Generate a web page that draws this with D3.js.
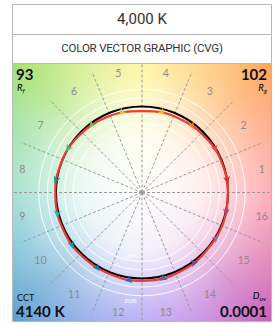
<!DOCTYPE html>
<html>
<head>
<meta charset="utf-8">
<script src="https://cdn.jsdelivr.net/npm/d3@7"></script>
<style>
  body { margin: 0; background: #fff; }
  svg { display: block; font-family: Lato, "Open Sans", sans-serif; }
  .spoke { stroke: #9a9a9a; stroke-width: 1; stroke-dasharray: 3,2; fill: none; }
  .ring { stroke: #fff; stroke-width: 1; fill: none; opacity: 0.9; }
  .binlbl { fill: #8c8c8c; font-size: 10.5px; }
  .big { font-weight: bold; font-size: 15px; fill: #111; }
</style>
</head>
<body>
<script>
// values
var bins = d3.range(1, 17);
var chromaRatio = [1.00, 0.99, 0.97, 0.96, 0.96, 0.98, 1.00, 1.01, 1.015, 1.02, 1.02, 1.03, 1.03, 1.02, 1.01, 1.005];
var hueShiftDeg = [-3, -3, -3, -3, 3, 3, 3, 3, 3, 3, 3, 3, 3, 3, 2, -2];
var binColors = ["#e62828", "#e74b4b", "#fb812e", "#ffb529", "#cbca46", "#7eb94c", "#41c06d", "#009c7c",
                 "#16bcb0", "#00a4bf", "#0085c3", "#3b62aa", "#4568ae", "#6a4e85", "#9d69a1", "#a74f81"];
var ringLevels = [0.8, 0.9, 1.1, 1.2];
var nominalCCT = "4,000 K";
var title = "COLOR VECTOR GRAPHIC (CVG)";
var Rf = 93, Rg = 102, CCT = "4140 K", Duv = "0.0001";

// background hue stops, every 22.5 deg starting at 0 (right)
var bgHue = ["#ff8090", "#ff8c6c", "#ff9c4c", "#ffc85c", "#fff070", "#d4ec6c", "#9ede64", "#84da94",
             "#74d2b4", "#5cb6cc", "#4e98cc", "#7090e2", "#9484f2", "#b070e0", "#c252b4", "#e2629c"];

var W = 280, H = 324;
var box = {x: 12, y: 4, w: 260, h: 318};
var row1 = 34, row2 = 63;
var cx = 142, cy = 192.5, R = 86;

var svg = d3.select("body").append("svg").attr("width", W).attr("height", H);
var defs = svg.append("defs");
defs.append("clipPath").attr("id", "clip").append("rect")
    .attr("x", box.x).attr("y", row2).attr("width", box.w).attr("height", box.y + box.h - row2);

var rg = defs.append("radialGradient").attr("id", "whiten")
    .attr("gradientUnits", "userSpaceOnUse").attr("cx", cx).attr("cy", cy).attr("r", 195);
rg.append("stop").attr("offset", 0).attr("stop-color", "#fff").attr("stop-opacity", 1);
rg.append("stop").attr("offset", 0.3).attr("stop-color", "#fff").attr("stop-opacity", 0.88);
rg.append("stop").attr("offset", 0.62).attr("stop-color", "#fff").attr("stop-opacity", 0.42);
rg.append("stop").attr("offset", 1).attr("stop-color", "#fff").attr("stop-opacity", 0);

var r = d3.scaleLinear().domain([0, 1]).range([0, R]);
// math angle (deg, ccw) -> screen point
function pt(deg, rad) {
  var a = deg * Math.PI / 180;
  return [cx + rad * Math.cos(a), cy - rad * Math.sin(a)];
}

var plot = svg.append("g").attr("clip-path", "url(#clip)");

// background wedges
var hueColor = d3.scaleLinear()
    .domain(d3.range(0, 361, 22.5))
    .range(bgHue.concat([bgHue[0]]))
    .interpolate(d3.interpolateRgb);
var steps = d3.range(0, 360, 2);
var wedge = d3.arc().innerRadius(0).outerRadius(220);
plot.append("g").attr("transform", "translate(" + cx + "," + cy + ")")
  .selectAll("path").data(steps).enter().append("path")
    .attr("d", function(d) {
      // d3.arc angles: clockwise from 12 o'clock
      var a0 = (90 - d - 1.2) * Math.PI / 180, a1 = (90 - d + 1.2) * Math.PI / 180;
      return wedge({startAngle: a1, endAngle: a0});
    })
    .attr("fill", function(d) { return hueColor(d + 1); })
    .attr("stroke", function(d) { return hueColor(d + 1); })
    .attr("stroke-width", 0.5);
plot.append("rect").attr("x", box.x).attr("y", row2).attr("width", box.w)
    .attr("height", box.y + box.h - row2).attr("fill", "url(#whiten)");

// rings
plot.selectAll(".ring").data(ringLevels).enter().append("circle")
    .attr("class", "ring").attr("cx", cx).attr("cy", cy).attr("r", function(d) { return r(d); });

// spokes at bin boundaries
plot.selectAll(".spoke").data(d3.range(0, 16)).enter().append("line")
    .attr("class", "spoke")
    .attr("x1", cx).attr("y1", cy)
    .attr("x2", function(i) { return pt(i * 22.5, r(1.52))[0]; })
    .attr("y2", function(i) { return pt(i * 22.5, r(1.52))[1]; });
plot.append("path").attr("d", "M" + (cx - 3) + "," + cy + "H" + (cx + 3) + "M" + cx + "," + (cy - 3) + "V" + (cy + 3))
    .attr("stroke", "#999").attr("stroke-width", 0.8);

// bin labels
plot.selectAll(".binlbl").data(bins).enter().append("text")
    .attr("class", "binlbl")
    .attr("text-anchor", "middle").attr("dominant-baseline", "central")
    .attr("x", function(b) { return pt((b - 0.5) * 22.5, r(1.42))[0]; })
    .attr("y", function(b) { return pt((b - 0.5) * 22.5, r(1.42))[1]; })
    .text(function(b) { return b; });

// percentage labels
plot.append("text").attr("x", pt(260, r(0.8) - 5)[0]).attr("y", pt(260, r(0.8) - 5)[1])
    .attr("text-anchor", "middle").attr("dominant-baseline", "central")
    .attr("fill", "#fff").attr("font-size", 6.5).text("-20%");
plot.append("text").attr("x", pt(264, r(1.2) + 5)[0]).attr("y", pt(264, r(1.2) + 5)[1])
    .attr("text-anchor", "middle").attr("dominant-baseline", "central")
    .attr("fill", "#fff").attr("font-size", 6.5).text("20%");

// reference circle
plot.append("circle").attr("cx", cx).attr("cy", cy).attr("r", r(1))
    .attr("fill", "none").attr("stroke", "#000").attr("stroke-width", 2);

// test curve
var testPts = bins.map(function(b, i) {
  var ang = (b - 0.5) * 22.5 + hueShiftDeg[i];
  return pt(ang, r(chromaRatio[i]));
});
plot.append("path").datum(testPts)
    .attr("d", d3.line().curve(d3.curveCardinalClosed.tension(0.2)))
    .attr("fill", "none").attr("stroke", "#ee3b35").attr("stroke-width", 2.2);

// arrow heads from ref to test
plot.selectAll(".arrow").data(bins).enter().append("path")
    .attr("class", "arrow")
    .attr("d", "M4,0L-3.5,-3.5L-1.5,0L-3.5,3.5Z")
    .attr("fill", function(b, i) { return binColors[i]; })
    .attr("transform", function(b, i) {
      var p0 = pt((b - 0.5) * 22.5, r(1));
      var p1 = testPts[i];
      var ang = Math.atan2(p1[1] - p0[1], p1[0] - p0[0]) * 180 / Math.PI;
      return "translate(" + p1[0] + "," + p1[1] + ") rotate(" + ang + ")";
    });

// frame
svg.append("rect").attr("x", box.x + 0.5).attr("y", box.y + 0.5).attr("width", box.w - 1).attr("height", box.h - 1)
    .attr("fill", "none").attr("stroke", "#b8b8b8");
svg.append("line").attr("x1", box.x).attr("x2", box.x + box.w).attr("y1", row1 + 0.5).attr("y2", row1 + 0.5).attr("stroke", "#b8b8b8");
svg.append("line").attr("x1", box.x).attr("x2", box.x + box.w).attr("y1", row2 + 0.5).attr("y2", row2 + 0.5).attr("stroke", "#b8b8b8");

svg.append("text").attr("x", cx).attr("y", 24).attr("text-anchor", "middle")
    .attr("font-family", "Roboto").attr("font-size", 15).attr("fill", "#333").text(nominalCCT);
svg.append("text").attr("x", cx).attr("y", 52).attr("text-anchor", "middle")
    .attr("font-family", "Roboto").attr("font-size", 11.5).attr("fill", "#333")
    .attr("letter-spacing", -0.2).text(title);

// corner metrics
svg.append("text").attr("class", "big").attr("x", 16).attr("y", 80).text(Rf);
var t1 = svg.append("text").attr("x", 17).attr("y", 91).attr("font-size", 9.5).attr("font-style", "italic");
t1.append("tspan").text("R");
t1.append("tspan").attr("font-size", 6.5).attr("dy", 2).text("f");

svg.append("text").attr("class", "big").attr("x", 267).attr("y", 80).attr("text-anchor", "end").text(Rg);
var t2 = svg.append("text").attr("x", 267).attr("y", 91).attr("font-size", 9.5).attr("font-style", "italic").attr("text-anchor", "end");
t2.append("tspan").text("R");
t2.append("tspan").attr("font-size", 6.5).attr("dy", 2).text("g");

svg.append("text").attr("x", 17).attr("y", 301).attr("font-size", 9).attr("fill", "#111").text("CCT");
svg.append("text").attr("class", "big").attr("x", 16).attr("y", 317).text(CCT);

var t3 = svg.append("text").attr("x", 266).attr("y", 299).attr("font-size", 9.5).attr("font-style", "italic").attr("text-anchor", "end");
t3.append("tspan").text("D");
t3.append("tspan").attr("font-size", 6.5).attr("dy", 2).text("uv");
svg.append("text").attr("class", "big").attr("x", 267).attr("y", 317).attr("text-anchor", "end").text(Duv);
</script>
</body>
</html>
